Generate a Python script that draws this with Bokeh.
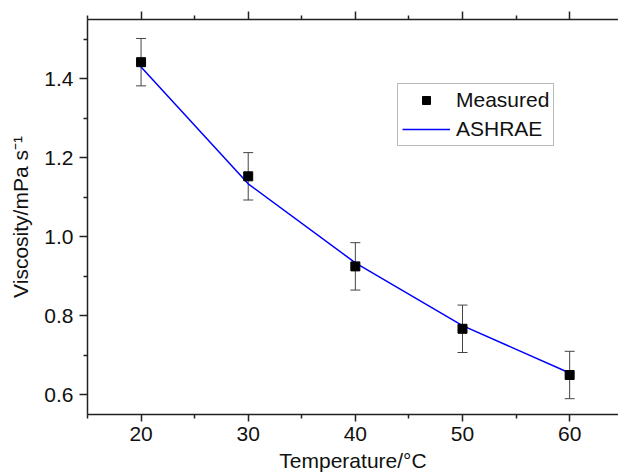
from bokeh.plotting import figure
from bokeh.models import (ColumnDataSource, Whisker, LinearAxis, Range1d, Legend, LegendItem,
                          FixedTicker, TeeHead, NumeralTickFormatter)
from bokeh.embed import file_html
from bokeh.resources import INLINE

temperature = [20, 30, 40, 50, 60]
measured = [1.442, 1.153, 0.925, 0.767, 0.650]
measured_err = [0.06, 0.06, 0.06, 0.06, 0.06]
ashrae = [1.430, 1.134, 0.934, 0.775, 0.655]

x_ticks = [20, 30, 40, 50, 60]
x_minor = [15, 25, 35, 45, 55, 65]
y_ticks = [0.6, 0.8, 1.0, 1.2, 1.4]
y_minor = [0.5, 0.7, 0.9, 1.1, 1.3, 1.5]

FONT = "Liberation Sans"
FS = "21px"
AX = "#222222"

src = ColumnDataSource(dict(
    x=temperature, y=measured,
    lo=[m - e for m, e in zip(measured, measured_err)],
    hi=[m + e for m, e in zip(measured, measured_err)],
    a=ashrae,
))

p = figure(width=618, height=476, output_backend="svg", toolbar_location=None,
           x_range=Range1d(15, 64.56), y_range=Range1d(0.55, 1.55),
           min_border_left=87, min_border_right=0, min_border_top=19, min_border_bottom=62,
           x_axis_label="Temperature/°C", y_axis_label="Viscosity/mPa s⁻¹")
p.grid.visible = False
p.outline_line_color = None
p.background_fill_color = "white"
p.border_fill_color = "white"

for ax, ticks, minor in ((p.xaxis[0], x_ticks, x_minor), (p.yaxis[0], y_ticks, y_minor)):
    ax.ticker = FixedTicker(ticks=ticks, minor_ticks=minor)
    ax.major_tick_out = 7 if ax is p.xaxis[0] else 8
    ax.major_tick_in = 0
    ax.minor_tick_out = 4
    ax.minor_tick_in = 0
    ax.axis_line_width = 1.5
    ax.axis_line_color = AX
    ax.major_tick_line_color = AX
    ax.minor_tick_line_color = AX
    ax.major_tick_line_width = 1.5
    ax.minor_tick_line_width = 1.5
    ax.major_label_text_font = FONT
    ax.major_label_text_font_size = FS
    ax.major_label_text_color = "#111111"
    ax.axis_label_text_font = FONT
    ax.axis_label_text_font_size = FS
    ax.axis_label_text_font_style = "normal"
    ax.axis_label_text_color = "#111111"

p.yaxis[0].formatter = NumeralTickFormatter(format="0.0")
p.xaxis[0].major_label_standoff = 5
p.xaxis[0].axis_label_standoff = 5
p.yaxis[0].major_label_standoff = 6
p.yaxis[0].axis_label_standoff = 9

top = LinearAxis(ticker=FixedTicker(ticks=x_ticks, minor_ticks=x_minor),
                 major_label_text_font_size="0px", major_label_text_color=None,
                 major_label_standoff=0,
                 major_tick_out=8, major_tick_in=0,
                 minor_tick_out=4, minor_tick_in=0, axis_line_width=1.5, axis_line_color=AX,
                 major_tick_line_width=1.5, minor_tick_line_width=1.5,
                 major_tick_line_color=AX, minor_tick_line_color=AX)
p.add_layout(top, "above")

wh = Whisker(source=src, base="x", lower="lo", upper="hi", line_color="#444444", line_width=1,
             upper_head=TeeHead(size=10, line_color="#444444", line_width=1),
             lower_head=TeeHead(size=10, line_color="#444444", line_width=1))
p.add_layout(wh)

line = p.line("x", "a", source=src, line_color="#0000ff", line_width=1.5)
pts = p.scatter("x", "y", source=src, marker="square", size=9, fill_color="black", line_color="black")

legend = Legend(items=[LegendItem(label="Measured", renderers=[pts]),
                       LegendItem(label="ASHRAE", renderers=[line])],
                location=(310, 268), padding=4, spacing=5, margin=0,
                glyph_width=48, glyph_height=20, label_height=20, label_standoff=6,
                label_text_font=FONT, label_text_font_size=FS, label_text_color="#111111",
                border_line_color="#777777", border_line_width=1.2,
                background_fill_alpha=1)
p.add_layout(legend, "center")

open("out.html", "w").write(file_html(p, INLINE))
